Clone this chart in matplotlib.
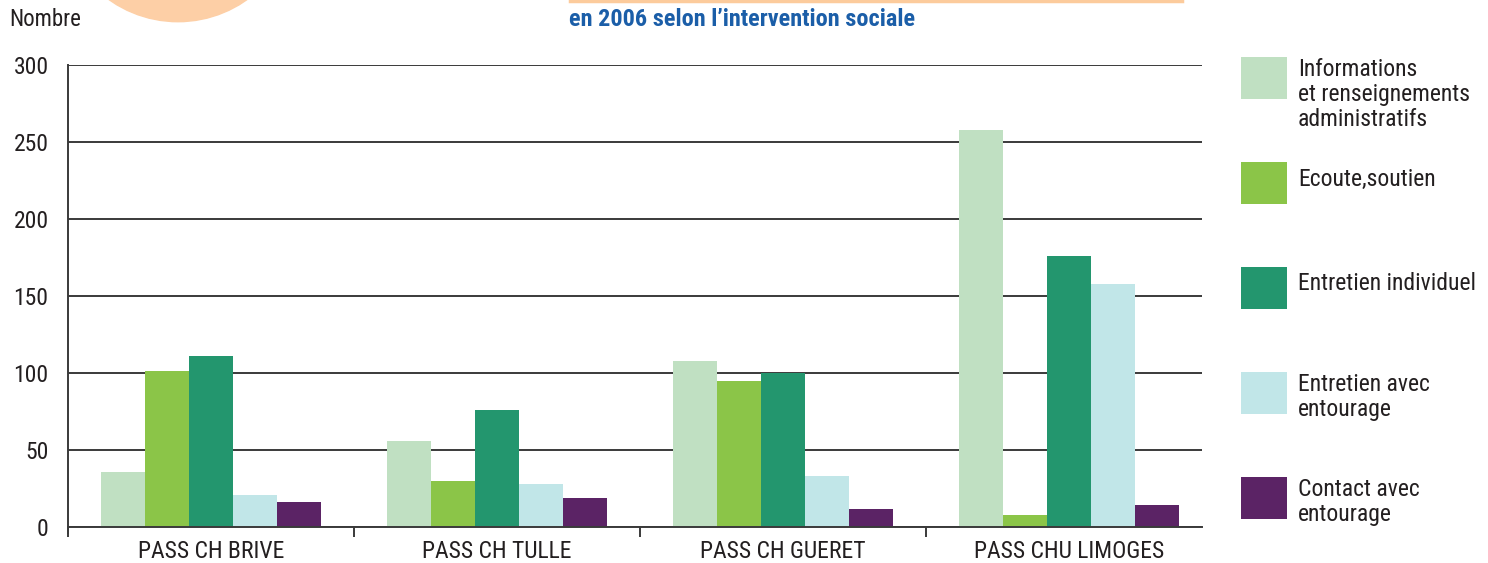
import matplotlib
matplotlib.use("Agg")
import matplotlib.pyplot as plt
import matplotlib.font_manager as fm
from matplotlib.patches import Rectangle, Ellipse
from matplotlib.lines import Line2D
import numpy as np

# ---------------- data ----------------
categories = ["PASS CH BRIVE", "PASS CH TULLE", "PASS CH GUERET", "PASS CHU LIMOGES"]
series_names = ["Informations\net renseignements\nadministratifs",
                "Ecoute,soutien",
                "Entretien individuel",
                "Entretien avec\nentourage",
                "Contact avec\nentourage"]
info_admin = [36, 56, 108, 258]
ecoute_soutien = [101, 30, 95, 8]
entretien_indiv = [111, 76, 100, 176]
entretien_entourage = [21, 28, 33, 158]
contact_entourage = [16, 19, 12, 14]
series_values = [info_admin, ecoute_soutien, entretien_indiv,
                 entretien_entourage, contact_entourage]
y_ticks = [0, 50, 100, 150, 200, 250, 300]
title_text = "en 2006 selon l\u2019intervention sociale"
ylabel_text = "Nombre"

colors = ["#C0E0C2", "#8BC548", "#23966E", "#C1E6E8", "#5B2365"]
text_color = "#231F20"
grid_color = "#3A3A3A"

# ---------------- fonts ----------------
available = {f.name for f in fm.fontManager.ttflist}
family = None
for cand in ["Roboto Condensed", "Liberation Sans Narrow", "Open Sans Condensed"]:
    if cand in available:
        family = cand
        break
if family is None:
    family = "DejaVu Sans"
plt.rcParams["font.family"] = [family, "DejaVu Sans"]

FS = 17

W, H = 1488, 563
fig = plt.figure(figsize=(W / 100, H / 100), dpi=100)

def fx(x):
    return x / W

def fy(y):
    return 1 - y / H

ax = fig.add_axes([fx(68), fy(527), fx(1202) - fx(68), fy(65) - fy(527)])

n = len(series_values)
bw = 0.154
x = np.arange(len(categories))
for i, (vals, c) in enumerate(zip(series_values, colors)):
    ax.bar(x + (i - (n - 1) / 2) * bw, vals, width=bw, color=c, zorder=3,
           linewidth=0)

ax.set_xlim(-0.5, len(categories) - 0.535)
ax.set_ylim(0, 300)
ax.set_yticks(y_ticks)
ax.set_yticklabels([str(t) for t in y_ticks], fontsize=FS, color=text_color)
ax.tick_params(axis="y", length=0, pad=14)
ax.yaxis.grid(True, color=grid_color, linewidth=1.4, zorder=1)
ax.set_axisbelow(True)

# category labels at centers, ticks at boundaries
ax.set_xticks(x)
ax.set_xticklabels(categories, fontsize=FS, color=text_color)
ax.tick_params(axis="x", which="major", length=0, pad=9)
ax.set_xticks(np.arange(len(categories)) - 0.5, minor=True)
ax.tick_params(axis="x", which="minor", length=7, width=1.4, color=grid_color)

for s in ["top", "right"]:
    ax.spines[s].set_visible(False)
ax.spines["left"].set_color(grid_color)
ax.spines["left"].set_linewidth(1.4)
ax.spines["left"].set_bounds(-4, 300)
ax.spines["bottom"].set_color(grid_color)
ax.spines["bottom"].set_linewidth(1.4)
ax.spines["bottom"].set_zorder(4)

# ---------------- decorations ----------------
r = 119
circ = Ellipse((fx(178), fy(21.7 - r)), width=2 * r / W, height=2 * r / H,
               transform=fig.transFigure, color="#FDCFA6", zorder=0)
fig.add_artist(circ)
fig.add_artist(Line2D([fx(570), fx(1182)], [fy(0.5), fy(0.5)],
                      transform=fig.transFigure, color="#FCCB9C", linewidth=2.5))

fig.text(fx(9), fy(20), ylabel_text, fontsize=16.5, color=text_color,
         ha="left", va="center")
fig.text(fx(569), fy(20), title_text, fontsize=17.5, fontweight="bold",
         color="#1B5EA8", ha="left", va="center")

# ---------------- legend ----------------
patch_tops = [57, 162, 267, 372, 477]
for name, c, top in zip(series_names, colors, patch_tops):
    fig.add_artist(Rectangle((fx(1241), fy(top + 42)), fx(46), 42 / H,
                             transform=fig.transFigure, color=c, linewidth=0))
    nlines = name.count("\n") + 1
    if nlines == 1:
        fig.text(fx(1298), fy(top + 17), name, fontsize=FS, color=text_color,
                 ha="left", va="center")
    else:
        fig.text(fx(1298), fy(top + 1), name, fontsize=FS, color=text_color,
                 ha="left", va="top", linespacing=1.12)

fig.savefig("out.png", dpi=100)
